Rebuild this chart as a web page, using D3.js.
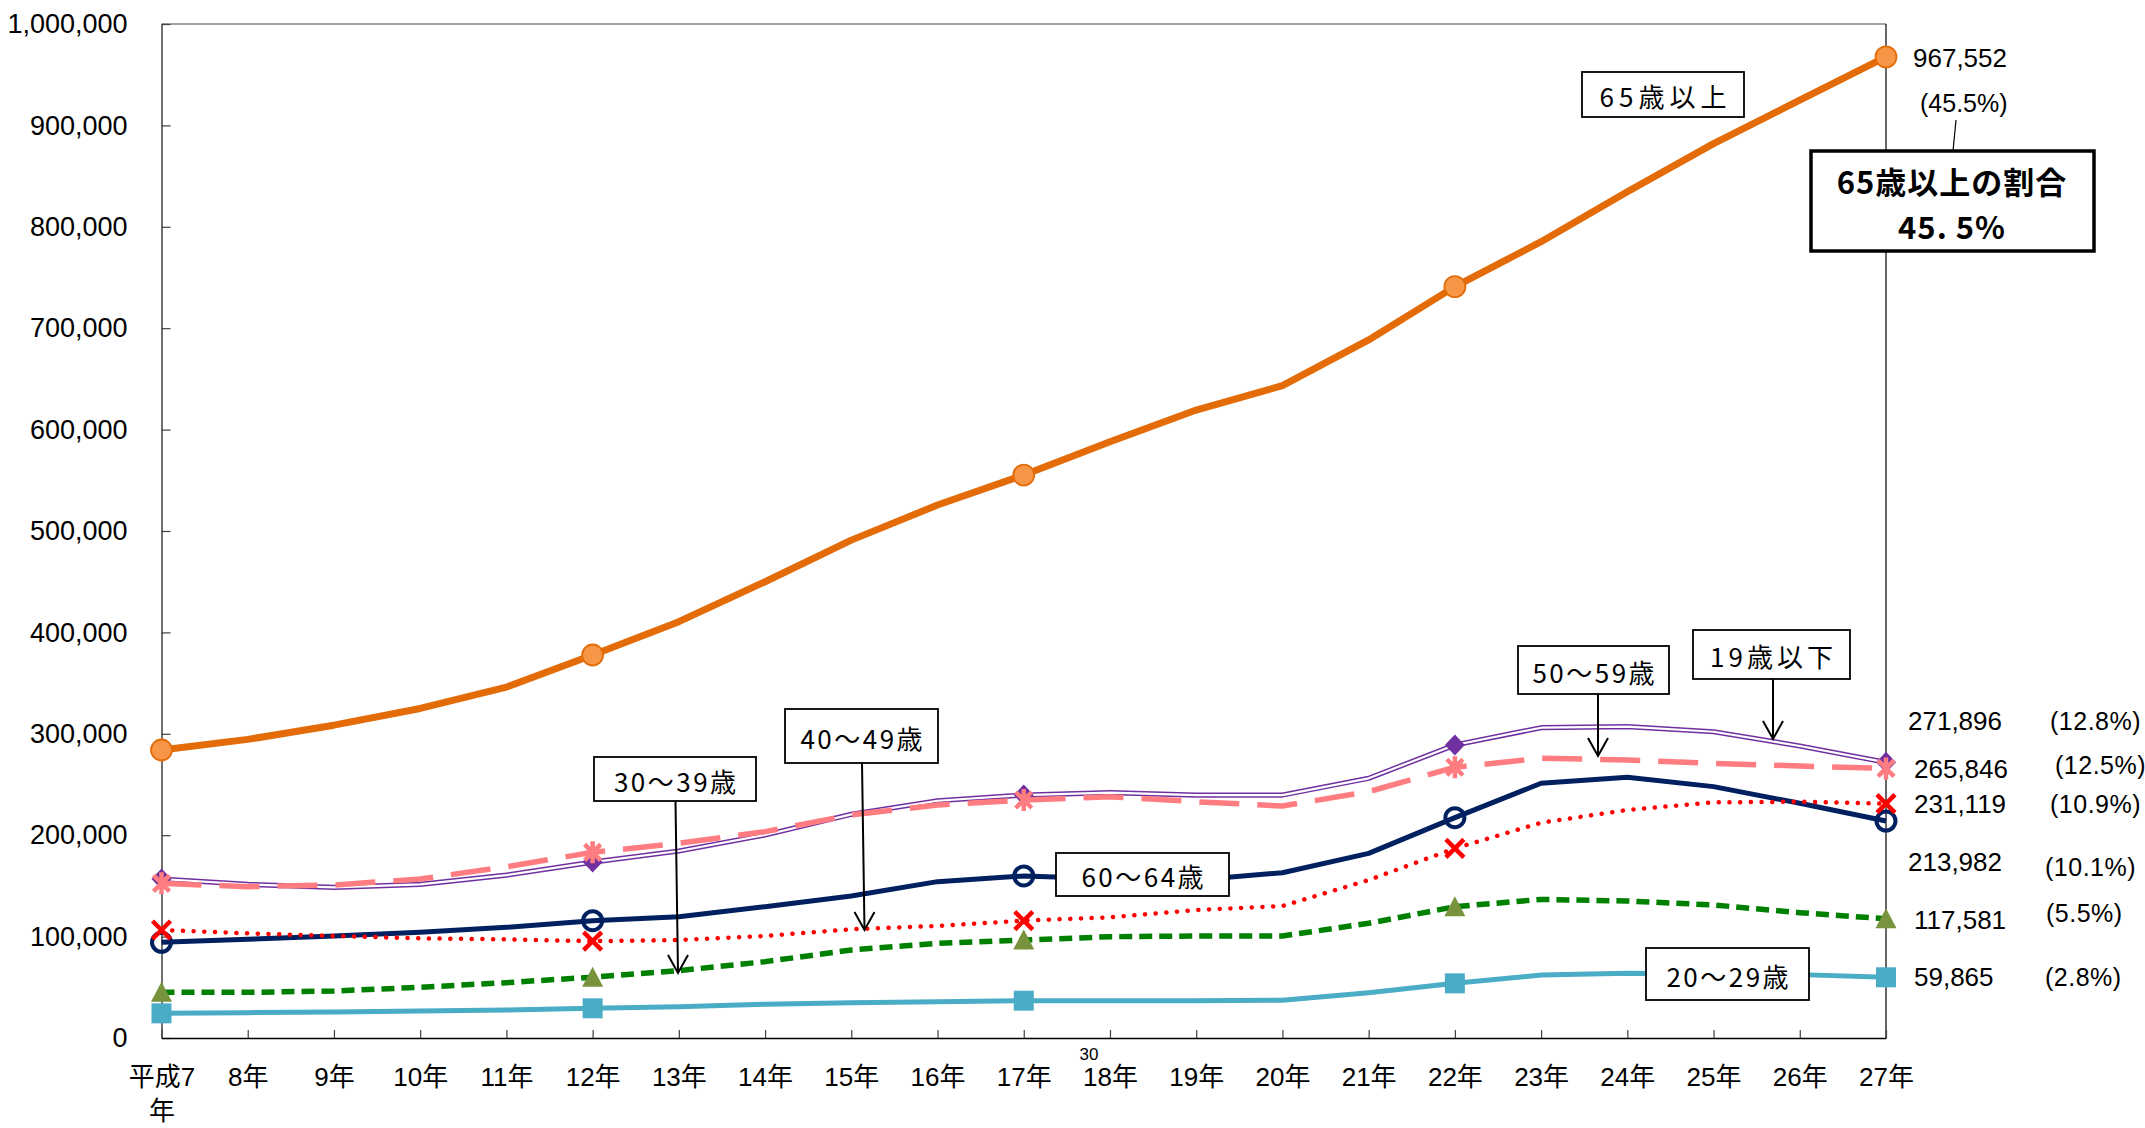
<!DOCTYPE html>
<html><head><meta charset="utf-8">
<script src="https://cdn.jsdelivr.net/npm/d3@7"></script>
<style>body{margin:0;background:#fff} svg{display:block}</style>
</head><body><svg id="c" width="2145" height="1128"></svg>
<script>
// ---------- data ----------
const categories = ["平成7年","8年","9年","10年","11年","12年","13年","14年","15年","16年","17年","18年","19年","20年","21年","22年","23年","24年","25年","26年","27年"];
const yTicks = [0,100000,200000,300000,400000,500000,600000,700000,800000,900000,1000000];
const age65over = [284000,294500,308500,325000,346000,377700,410600,450000,491000,525600,555200,588000,619300,643300,688400,741000,785300,834600,882000,925000,967552];
const age0_19   = [156800,151500,148600,151500,160700,173500,184400,200200,220600,234000,239600,241900,239600,239600,256100,289000,306000,307000,302000,288000,271896];
const age50_59  = [152500,149200,150900,156800,168900,183100,192000,203500,220000,229800,234700,238000,233000,228800,242900,267000,275800,274200,270900,268200,265846];
const age60_64  = [94400,97300,100600,104200,109200,115700,119600,129500,140000,154200,159800,157000,155800,163000,182100,217300,251200,257100,247900,231500,213982];
const age40_49  = [106500,103200,100600,98300,97300,95500,96600,100600,107200,110500,115700,119000,126200,130200,155800,187000,212300,224900,232400,233000,231119];
const age30_39  = [45000,45000,46400,50000,54600,60000,66400,75300,86800,93300,96600,99900,100600,100600,113100,129500,136700,135100,131200,123600,117581];
const age20_29  = [24300,25000,25600,26600,27600,29300,30900,33200,34800,35800,36800,36800,36800,37200,44700,53900,62100,63800,63000,62500,59865];
const endValueLabels = ["271,896","265,846","231,119","213,982","117,581","59,865"];
const endPctLabels   = ["(12.8%)","(12.5%)","(10.9%)","(10.1%)","(5.5%)","(2.8%)"];
const seriesNames = ["65歳以上","19歳以下","50～59歳","60～64歳","40～49歳","30～39歳","20～29歳"];

// ---------- layout ----------
const svg = d3.select("#c");
const latin = "'Liberation Sans', Arial, 'Noto Sans CJK JP', sans-serif";
const cjk = "'Noto Sans CJK JP', 'Liberation Sans', sans-serif";

const x = d3.scalePoint().domain(categories).range([161.5, 1886]);
const y = d3.scaleLinear().domain([0, 1000000]).range([1038, 24]);

// plot border (top gray, right black)
svg.append("line").attr("x1", 161.5).attr("x2", 1886).attr("y1", 24).attr("y2", 24)
  .attr("stroke", "#868686").attr("stroke-width", 1.5);
svg.append("line").attr("x1", 1886).attr("x2", 1886).attr("y1", 24).attr("y2", 1038)
  .attr("stroke", "#000").attr("stroke-width", 1.2);

// y axis
const yAxis = d3.axisLeft(y).tickValues(yTicks).tickSize(-9).tickSizeOuter(0).tickPadding(34)
  .tickFormat(d3.format(","));
const gy = svg.append("g").attr("transform", "translate(161.5,0)").call(yAxis);
gy.select(".domain").attr("stroke", "#404040").attr("stroke-width", 1.5);
gy.selectAll(".tick line").attr("stroke", "#404040").attr("stroke-width", 1.2);
gy.selectAll(".tick text").attr("font-family", latin).attr("font-size", 27).attr("fill", "#000");

// x axis
const xAxis = d3.axisBottom(x).tickSize(-8).tickSizeOuter(0).tickPadding(30).tickFormat("");
const gx = svg.append("g").attr("transform", "translate(0,1038)").call(xAxis);
gx.select(".domain").attr("stroke", "#000").attr("stroke-width", 1.5);
gx.selectAll(".tick line").attr("stroke", "#404040").attr("stroke-width", 1.2);
gx.selectAll(".tick").each(function(d, i) {
  const t = d3.select(this).append("text").attr("font-family", latin).attr("font-size", 26)
    .attr("fill", "#000").attr("text-anchor", "middle");
  if (i === 0) {
    t.append("tspan").attr("x", 0).attr("y", 48).text(d.slice(0, 3));
    t.append("tspan").attr("x", 0).attr("y", 82).text(d.slice(3));
  } else {
    t.append("tspan").attr("x", 0).attr("y", 48).text(d);
  }
});
// stray "30" above 18年
svg.append("text").attr("x", 1089).attr("y", 1060).attr("text-anchor", "middle")
  .attr("font-family", latin).attr("font-size", 17).text("30");

// ---------- symbols ----------
const sym = {
  circle: {draw(c, r){ c.moveTo(r,0); c.arc(0,0,r,0,2*Math.PI); }},
  diamond: {draw(c, r){ c.moveTo(0,-r); c.lineTo(r*0.95,0); c.lineTo(0,r); c.lineTo(-r*0.95,0); c.closePath(); }},
  square: {draw(c, r){ c.rect(-r,-r,2*r,2*r); }},
  triangle: {draw(c, r){ c.moveTo(0,-r*1.05); c.lineTo(r*1.05,r*0.95); c.lineTo(-r*1.05,r*0.95); c.closePath(); }},
  cross: {draw(c, r){ c.moveTo(-r,-r); c.lineTo(r,r); c.moveTo(r,-r); c.lineTo(-r,r); }},
  star: {draw(c, r){ const k=r*0.8; c.moveTo(-k,-k); c.lineTo(k,k); c.moveTo(k,-k); c.lineTo(-k,k); c.moveTo(0,-r*1.1); c.lineTo(0,r*1.1); }}
};

const series = [
  {values: age0_19,  color:"#7030A0", width:5.2, dash:null, double:true, marker:"diamond", mr:10.5, mfill:"#7030A0", mstroke:"none", msw:0},
  {values: age50_59, color:"#FF7C80", width:5.5, dash:"40 18", marker:"star", mr:10, mfill:"none", mstroke:"#FF7C80", msw:4.5},
  {values: age60_64, color:"#002060", width:5, dash:null, marker:"circle", mr:9.5, mfill:"none", mstroke:"#002060", msw:4},
  {values: age40_49, color:"#FF0000", width:4.5, dash:"0.1 10.6", cap:"round", marker:"cross", mr:9, mfill:"none", mstroke:"#FF0000", msw:4.5},
  {values: age30_39, color:"#008000", width:5.5, dash:"13 7", marker:"triangle", mr:10, mfill:"#77933C", mstroke:"none", msw:0},
  {values: age20_29, color:"#4BACC6", width:5, dash:null, marker:"square", mr:10, mfill:"#4BACC6", mstroke:"none", msw:0},
  {values: age65over,color:"#E36C09", width:7, dash:null, marker:"circle", mr:10.5, mfill:"#F79646", mstroke:"#E36C09", msw:1.8}
];

const line = d3.line().x((d, i) => x(categories[i])).y(d => y(d));
const markerIdx = [0, 5, 10, 15, 20];

series.forEach(s => {
  const g = svg.append("g");
  const p = g.append("path").attr("d", line(s.values)).attr("fill", "none")
    .attr("stroke", s.color).attr("stroke-width", s.width)
    .attr("stroke-linejoin", "round").attr("stroke-linecap", s.cap || "butt");
  if (s.dash) p.attr("stroke-dasharray", s.dash);
  if (s.double) {
    g.append("path").attr("d", line(s.values)).attr("fill", "none")
      .attr("stroke", "#fff").attr("stroke-width", 2.2).attr("stroke-linejoin", "round");
  }
  g.selectAll("path.m").data(markerIdx).join("path").attr("class", "m")
    .attr("transform", i => `translate(${x(categories[i])},${y(s.values[i])})`)
    .attr("d", d3.symbol().type(sym[s.marker]).size(s.mr))
    .attr("fill", s.mfill).attr("stroke", s.mstroke).attr("stroke-width", s.msw);
});

// ---------- annotations ----------
function boxLabel(cx, cy, w, h, text, opts = {}) {
  const g = svg.append("g");
  g.append("rect").attr("x", cx - w/2).attr("y", cy - h/2).attr("width", w).attr("height", h)
    .attr("fill", "#fff").attr("stroke", "#000").attr("stroke-width", opts.sw || 1.8);
  g.append("text").attr("x", cx + (opts.ls || 2.5) / 2).attr("y", cy + 1).attr("text-anchor", "middle")
    .attr("dominant-baseline", "central").attr("font-family", cjk)
    .attr("font-size", opts.fs || 26).attr("letter-spacing", opts.ls || 2.5)
    .text(text);
}
function arrow(x1, y1, x2, y2) {
  svg.append("line").attr("x1", x1).attr("y1", y1).attr("x2", x2).attr("y2", y2)
    .attr("stroke", "#000").attr("stroke-width", 2);
  svg.append("path").attr("d", `M${x2-10},${y2-18}L${x2},${y2}L${x2+10},${y2-18}`)
    .attr("fill", "none").attr("stroke", "#000").attr("stroke-width", 2);
}

arrow(675.5, 801, 678, 973);
arrow(862, 763, 864.5, 930);
arrow(1598, 694, 1598, 756);
arrow(1773, 679, 1773, 739);

boxLabel(1663, 94.5, 162, 45, seriesNames[0], {ls: 5});
boxLabel(1771.5, 654.5, 157, 49, seriesNames[1], {ls: 4});
boxLabel(1593.5, 670, 151, 48, seriesNames[2]);
boxLabel(1142.5, 874.5, 173, 43, seriesNames[3]);
boxLabel(861.5, 736, 153, 54, seriesNames[4]);
boxLabel(675, 779, 162, 44, seriesNames[5]);
boxLabel(1727.5, 974, 163, 52, seriesNames[6]);

// 65歳以上 end labels
svg.append("text").attr("x", 1913).attr("y", 67).attr("font-family", latin).attr("font-size", 26).text("967,552");
svg.append("text").attr("x", 1920).attr("y", 112).attr("font-family", latin).attr("font-size", 25).text("(45.5%)");
svg.append("line").attr("x1", 1956).attr("y1", 120).attr("x2", 1953).attr("y2", 151).attr("stroke", "#000").attr("stroke-width", 1.2);

// highlighted share box
svg.append("rect").attr("x", 1811).attr("y", 151).attr("width", 283).attr("height", 100)
  .attr("fill", "#fff").attr("stroke", "#000").attr("stroke-width", 3.5);
svg.append("text").attr("x", 1952).attr("y", 194).attr("text-anchor", "middle").attr("font-family", cjk)
  .attr("font-weight", 700).attr("font-size", 31).attr("letter-spacing", 1).text("65歳以上の割合");
svg.append("text").attr("x", 1952).attr("y", 239).attr("text-anchor", "middle").attr("font-family", cjk)
  .attr("font-weight", 700).attr("font-size", 31).attr("letter-spacing", 1).text("45. 5%");

// right-side value labels
const valPos = [[1908, 721], [1914, 769], [1914, 804], [1908, 862], [1914, 920], [1914, 977]];
const pctPos = [[2050, 721], [2055, 765], [2050, 804], [2045, 867], [2046, 913], [2045, 977]];
endValueLabels.forEach((t, i) => {
  svg.append("text").attr("x", valPos[i][0]).attr("y", valPos[i][1]).attr("dominant-baseline", "central")
    .attr("font-family", latin).attr("font-size", 26).text(t);
  svg.append("text").attr("x", pctPos[i][0]).attr("y", pctPos[i][1]).attr("dominant-baseline", "central")
    .attr("font-family", latin).attr("font-size", 25).attr("letter-spacing", 0.5).text(endPctLabels[i]);
});
</script>
</body></html>
